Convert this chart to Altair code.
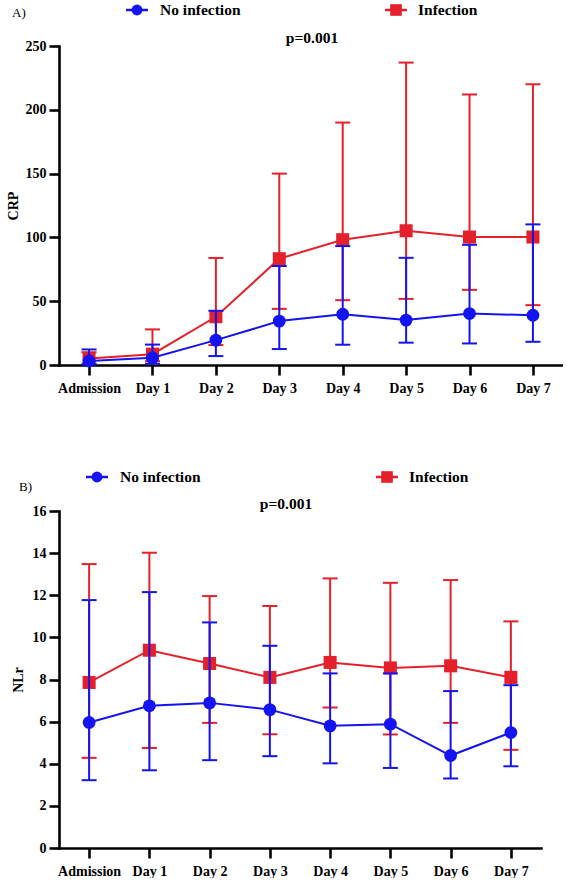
import altair as alt
import pandas as pd

DAYS = ["Admission", "Day 1", "Day 2", "Day 3", "Day 4", "Day 5", "Day 6", "Day 7"]
GROUPS = ["No infection", "Infection"]
BLUE = "#1414F0"
RED = "#E4202A"

# CRP by day: group means and error-bar limits
CRP_NO_MEAN = [3.1, 5.7, 19.5, 34.4, 39.8, 35.2, 40.3, 39.0]
CRP_NO_LOW = [0.5, 1.0, 7.0, 12.5, 15.9, 17.5, 16.9, 18.2]
CRP_NO_HIGH = [12.2, 16.0, 42.5, 77.6, 93.2, 84.0, 94.2, 110.2]
CRP_INF_MEAN = [5.0, 8.5, 37.8, 83.3, 98.2, 105.2, 100.3, 100.3]
CRP_INF_LOW = [1.0, 3.0, 15.6, 44.0, 50.8, 51.8, 58.9, 46.9]
CRP_INF_HIGH = [10.0, 27.9, 83.9, 150.0, 190.0, 237.0, 212.0, 220.0]

# Neutrophil-to-lymphocyte ratio by day
NLR_NO_MEAN = [5.96, 6.75, 6.89, 6.57, 5.80, 5.88, 4.39, 5.48]
NLR_NO_LOW = [3.22, 3.69, 4.17, 4.36, 4.02, 3.80, 3.30, 3.88]
NLR_NO_HIGH = [11.77, 12.15, 10.71, 9.60, 8.29, 8.29, 7.45, 7.73]
NLR_INF_MEAN = [7.86, 9.39, 8.76, 8.10, 8.81, 8.55, 8.65, 8.10]
NLR_INF_LOW = [4.28, 4.75, 5.94, 5.40, 6.67, 5.39, 5.94, 4.66]
NLR_INF_HIGH = [13.48, 14.02, 11.96, 11.49, 12.80, 12.59, 12.72, 10.76]

FONT = "Liberation Serif"
ONE = alt.Data(values=[{}])


def frame(no_mean, no_low, no_high, inf_mean, inf_low, inf_high):
    rows = []
    for g, m, lo, hi in ((GROUPS[0], no_mean, no_low, no_high),
                         (GROUPS[1], inf_mean, inf_low, inf_high)):
        for d, a, b, c in zip(DAYS, m, lo, hi):
            rows.append({"day": d, "group": g, "mean": a, "low": b, "high": c})
    return pd.DataFrame(rows)


def text_at(txt, x, y, size, bold=True, align="left"):
    return alt.Chart(ONE).mark_text(
        text=txt, font=FONT, fontSize=size,
        fontWeight="bold" if bold else "normal",
        align=align, baseline="alphabetic", color="black",
    ).encode(x=alt.value(x), y=alt.value(y))


def legend_key(x, y, color, shape, size):
    rule = alt.Chart(ONE).mark_rule(color=color, strokeWidth=2.5).encode(
        x=alt.value(x - 11), x2=alt.value(x + 11), y=alt.value(y))
    dot = alt.Chart(ONE).mark_point(
        filled=True, shape=shape, size=size, color=color, opacity=1
    ).encode(x=alt.value(x), y=alt.value(y))
    return [rule, dot]


def panel(df, width, height, y_max, y_step, y_title, title_pad, x_pad,
          tag, tag_xy, leg_y, leg_blue_x, leg_red_x, p_xy, cell):
    x_axis = alt.Axis(
        title=None, labelAngle=0, labelFont=FONT, labelFontSize=14,
        labelFontWeight="bold", labelColor="black", labelPadding=6,
        domainColor="black", domainWidth=2.6, domainCap="square",
        tickColor="black", tickWidth=2.6, tickSize=10, grid=False,
    )
    y_axis = alt.Axis(
        values=list(range(0, y_max + 1, y_step)), title=y_title,
        titleFont=FONT, titleFontSize=14, titleFontWeight="bold",
        titleColor="black", titlePadding=title_pad,
        labelFont=FONT, labelFontSize=14, labelFontWeight="bold",
        labelColor="black", labelPadding=3,
        domainColor="black", domainWidth=2.6, domainCap="square",
        tickColor="black", tickWidth=2.6, tickSize=10, grid=False,
    )
    x = alt.X("day:N", sort=DAYS, axis=x_axis,
              scale=alt.Scale(type="point", padding=x_pad))
    y_scale = alt.Scale(domain=[0, y_max], nice=False)

    def yenc(field):
        return alt.Y(f"{field}:Q", scale=y_scale, axis=y_axis, title=y_title)

    left, top, bottom = cell
    layers = [
        # transparent frame that fixes the panel's outer box
        alt.Chart(ONE).mark_rule(color="white", opacity=0, strokeWidth=0).encode(
            x=alt.value(-left), y=alt.value(-top), y2=alt.value(bottom)),
    ]
    for g, color, shape, size in ((GROUPS[1], RED, "square", 170),
                                  (GROUPS[0], BLUE, "circle", 165)):
        base = alt.Chart(df).transform_filter(alt.datum.group == g)
        layers += [
            base.mark_line(color=color, strokeWidth=2).encode(x=x, y=yenc("mean")),
            base.mark_rule(color=color, strokeWidth=2).encode(
                x=x, y=yenc("low"), y2="high:Q"),
            base.mark_tick(color=color, thickness=2, size=15, opacity=1).encode(
                x=x, y=yenc("low")),
            base.mark_tick(color=color, thickness=2, size=15, opacity=1).encode(
                x=x, y=yenc("high")),
            base.mark_point(filled=True, shape=shape, size=size, color=color,
                            opacity=1).encode(x=x, y=yenc("mean")),
        ]
    layers.append(text_at(tag, tag_xy[0], tag_xy[1], 13, bold=False))
    layers += legend_key(leg_blue_x, leg_y, BLUE, "circle", 120)
    layers.append(text_at(GROUPS[0], leg_blue_x + 23, leg_y + 5, 15.5))
    layers += legend_key(leg_red_x, leg_y, RED, "square", 135)
    layers.append(text_at(GROUPS[1], leg_red_x + 22, leg_y + 5, 15.5))
    layers.append(text_at("p=0.001", p_xy[0], p_xy[1], 15.5, align="center"))
    return alt.layer(*layers).properties(width=width, height=height)


crp = frame(CRP_NO_MEAN, CRP_NO_LOW, CRP_NO_HIGH,
            CRP_INF_MEAN, CRP_INF_LOW, CRP_INF_HIGH)
nlr = frame(NLR_NO_MEAN, NLR_NO_LOW, NLR_NO_HIGH,
            NLR_INF_MEAN, NLR_INF_LOW, NLR_INF_HIGH)

panel_a = panel(crp, 504, 319, 250, 50, "CRP", 5, 0.474,
                "A)", (-47, -29), -36, 78, 337, (253, -3), (59, 46, 394))
panel_b = panel(nlr, 482, 337, 16, 2, "NLr", 7, 0.5,
                "B)", (-40, -20), -34, 38, 328, (227, -2), (50, 71, 360))

chart = alt.ConcatChart(
    concat=[panel_a, panel_b], columns=1, spacing=0, align="none",
    padding=0, background="white",
).configure_view(stroke=None)

chart.save("out.html", embed_options={"renderer": "svg", "actions": False})
